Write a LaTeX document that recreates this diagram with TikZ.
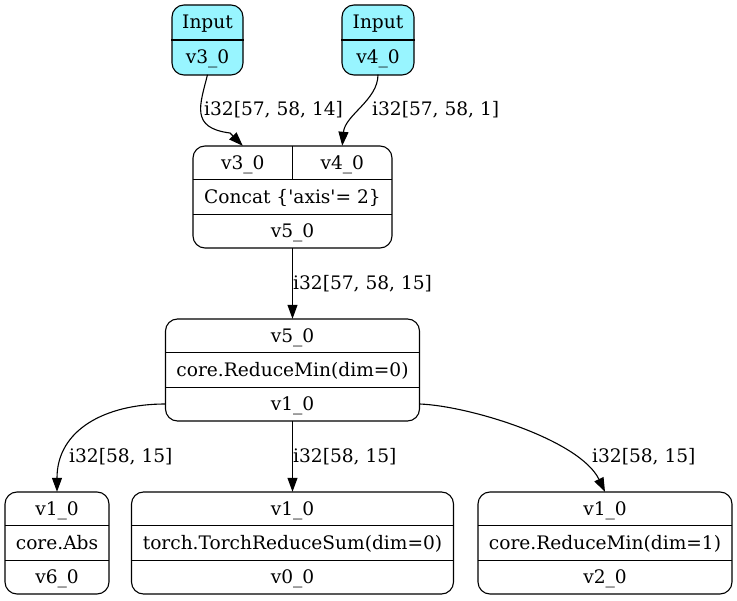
\documentclass[tikz,border=0pt]{standalone}
\usepackage{fontspec}
\setmainfont{DejaVu Serif}
\usetikzlibrary{arrows.meta,calc}
\definecolor{inputfill}{HTML}{98F5FF}
\newcommand\figfont{\fontsize{18.6}{22}\selectfont}
\begin{document}
\begin{tikzpicture}[x=1pt,y=-1pt,
  box/.style={draw, rounded corners=12pt, line width=1.1pt, inner sep=0pt},
  cell/.style={inner sep=0pt, minimum height=34pt, text height=17pt, text depth=4pt, font=\figfont},
  rule/.style={line width=1.1pt},
  edge/.style={line width=1.1pt, -{Triangle[length=14pt,width=10pt]}},
  elabel/.style={anchor=base west, inner sep=0pt, font=\figfont}]
\useasboundingbox (0,0) rectangle (737,601);
% ---- input nodes
\node[box, fill=inputfill, minimum width=71pt, minimum height=70pt] (in3) at (207.5,40) {};
\node[cell, minimum width=71pt] (in3-a) at (207.5,22.5) {Input};
\node[cell, minimum width=71pt] (in3-b) at (207.5,57.5) {v3\_0};
\draw[rule] (in3.west) -- (in3.east);
\node[box, fill=inputfill, minimum width=72pt, minimum height=70pt] (in4) at (378,40) {};
\node[cell, minimum width=72pt] (in4-a) at (378,22.5) {Input};
\node[cell, minimum width=72pt] (in4-b) at (378,57.5) {v4\_0};
\draw[rule] (in4.west) -- (in4.east);
% ---- concat
\node[box, minimum width=199pt, minimum height=102pt] (cat) at (292.5,197) {};
\node[cell, minimum width=99.5pt] (c3) at (242.75,163) {v3\_0};
\node[cell, minimum width=99.5pt] (c4) at (342.25,163) {v4\_0};
\node[cell, minimum width=199pt] (cat-b) at (292.5,197) {Concat \{\textquotesingle axis\textquotesingle= 2\}};
\node[cell, minimum width=199pt] (cat-c) at (292.5,231) {v5\_0};
\draw[rule] (c3.north east) -- (c3.south east);
\draw[rule] (cat-b.north west) -- (cat-b.north east);
\draw[rule] (cat-b.south west) -- (cat-b.south east);
% ---- reduce min 0
\node[box, minimum width=254pt, minimum height=102pt] (rmin) at (292.5,370) {};
\node[cell, minimum width=254pt] (rmin-a) at (292.5,336) {v5\_0};
\node[cell, minimum width=254pt] (rmin-b) at (292.5,370) {core.ReduceMin(dim=0)};
\node[cell, minimum width=254pt] (rmin-c) at (292.5,404) {v1\_0};
\draw[rule] (rmin-b.north west) -- (rmin-b.north east);
\draw[rule] (rmin-b.south west) -- (rmin-b.south east);
% ---- bottom row
\node[box, minimum width=104pt, minimum height=102pt] (abs) at (57,543) {};
\node[cell, minimum width=104pt] (abs-a) at (57,509) {v1\_0};
\node[cell, minimum width=104pt] (abs-b) at (57,543) {core.Abs};
\node[cell, minimum width=104pt] (abs-c) at (57,577) {v6\_0};
\draw[rule] (abs-b.north west) -- (abs-b.north east);
\draw[rule] (abs-b.south west) -- (abs-b.south east);
\node[box, minimum width=322pt, minimum height=102pt] (sum) at (292.5,543) {};
\node[cell, minimum width=322pt] (sum-a) at (292.5,509) {v1\_0};
\node[cell, minimum width=322pt] (sum-b) at (292.5,543) {torch.TorchReduceSum(dim=0)};
\node[cell, minimum width=322pt] (sum-c) at (292.5,577) {v0\_0};
\draw[rule] (sum-b.north west) -- (sum-b.north east);
\draw[rule] (sum-b.south west) -- (sum-b.south east);
\node[box, minimum width=254pt, minimum height=102pt] (rmin1) at (605,543) {};
\node[cell, minimum width=254pt] (rmin1-a) at (605,509) {v1\_0};
\node[cell, minimum width=254pt] (rmin1-b) at (605,543) {core.ReduceMin(dim=1)};
\node[cell, minimum width=254pt] (rmin1-c) at (605,577) {v2\_0};
\draw[rule] (rmin1-b.north west) -- (rmin1-b.north east);
\draw[rule] (rmin1-b.south west) -- (rmin1-b.south east);
% ---- edges
\draw[edge] (in3-b.south) .. controls (200,105) and (190,128) .. (230,133) -- (c3.north);
\draw[edge] (in4-b.south) .. controls (378,100) and (345,115) .. (c4.north);
\draw[edge] (cat-c.south) -- (rmin-a.north);
\draw[edge] (rmin-c.west) .. controls (105,404) and (57,430) .. (abs-a.north);
\draw[edge] (rmin-c.south) -- (sum-a.north);
\draw[edge] (rmin-c.east) .. controls (470,406) and (580,440) .. (rmin1-a.north);
% ---- edge labels
\node[elabel] (l1) at (204,116) {i32[57, 58, 14]};
\node[elabel] (l2) at (372,116) {i32[57, 58, 1]};
\node[elabel] (l3) at (293,290) {i32[57, 58, 15]};
\node[elabel] (l4) at (69,463) {i32[58, 15]};
\node[elabel] (l5) at (293,463) {i32[58, 15]};
\node[elabel] (l6) at (592,463) {i32[58, 15]};
\end{tikzpicture}
\end{document}
